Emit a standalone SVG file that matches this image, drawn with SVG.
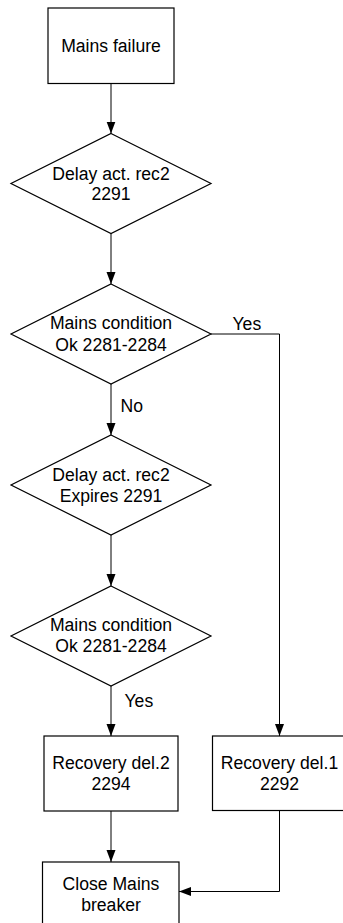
<svg xmlns="http://www.w3.org/2000/svg" width="343" height="923" viewBox="0 0 343 923">
<defs>
<style>
.shape{fill:#fff;stroke:#000;stroke-width:1.2}
.conn{fill:none;stroke:#000;stroke-width:1}
text{font-family:"Liberation Sans",Arial,sans-serif;font-size:17.6px;fill:#000;text-anchor:middle}
.lbl{text-anchor:start}
</style>
<marker id="arr" markerUnits="userSpaceOnUse" markerWidth="13" markerHeight="10" refX="12" refY="4.5" orient="auto">
<path d="M0,0 L12,4.5 L0,9 z" fill="#000"/>
</marker>
</defs>
<rect width="343" height="923" fill="#fff"/>
<g id="connectors">
<path class="conn" d="M111,83.5 V133.5" marker-end="url(#arr)"/>
<path class="conn" d="M111,233.5 V284" marker-end="url(#arr)"/>
<path class="conn" d="M111,384 V435" marker-end="url(#arr)"/>
<path class="conn" d="M111,535 V586" marker-end="url(#arr)"/>
<path class="conn" d="M111,686 V736" marker-end="url(#arr)"/>
<path class="conn" d="M111,811 V862" marker-end="url(#arr)"/>
<path class="conn" d="M211,334 H279.5 V736" marker-end="url(#arr)"/>
<path class="conn" d="M279.5,810.5 V891.5 H179" marker-end="url(#arr)"/>
<text class="lbl" x="232.5" y="329.5">Yes</text>
<text class="lbl" x="120.5" y="411.5">No</text>
<text class="lbl" x="124.5" y="706.5">Yes</text>
</g>
<g id="n1">
<rect class="shape" x="48" y="8" width="126" height="75.5"/>
<text x="111" y="51.7">Mains failure</text>
</g>
<g id="n2">
<polygon class="shape" points="111,133.5 211,183.5 111,233.5 11,183.5"/>
<text x="111" y="179.5">Delay act. rec2</text>
<text x="111" y="200.2">2291</text>
</g>
<g id="n3">
<polygon class="shape" points="111,284 211,334 111,384 11,334"/>
<text x="111" y="329.3">Mains condition</text>
<text x="111" y="350.6">Ok 2281-2284</text>
</g>
<g id="n4">
<polygon class="shape" points="111,435 211,485 111,535 11,485"/>
<text x="111" y="480.6">Delay act. rec2</text>
<text x="111" y="501.7">Expires 2291</text>
</g>
<g id="n5">
<polygon class="shape" points="111,586 211,636 111,686 11,636"/>
<text x="111" y="630.8">Mains condition</text>
<text x="111" y="652.2">Ok 2281-2284</text>
</g>
<g id="n6">
<rect class="shape" x="44" y="736" width="134" height="75"/>
<text x="111" y="768.8">Recovery del.2</text>
<text x="111" y="790">2294</text>
</g>
<g id="n7">
<rect class="shape" x="212.5" y="736" width="134" height="74.5"/>
<text x="279.5" y="769.2">Recovery del.1</text>
<text x="279.5" y="790">2292</text>
</g>
<g id="n8">
<rect class="shape" x="42.5" y="862" width="136.5" height="75"/>
<text x="111" y="890">Close Mains</text>
<text x="111" y="910.7">breaker</text>
</g>
</svg>
